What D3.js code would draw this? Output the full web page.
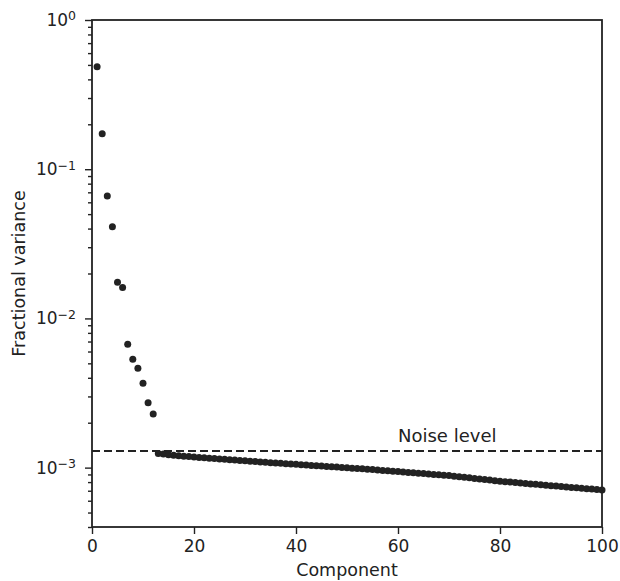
<!DOCTYPE html>
<html>
<head>
<meta charset="utf-8">
<script src="https://cdn.jsdelivr.net/npm/d3@7"></script>
<style>
  body { margin: 0; background: #fff; }
  text { font-family: "DejaVu Sans", sans-serif; fill: #222; }
</style>
</head>
<body>
<div id="plotDiv"></div>
<script>
// --- Data ---
const components = d3.range(1, 101);
const fracVariance = [
  0.486, 0.173, 0.0662, 0.0412, 0.0175, 0.0161, 0.0067, 0.00533, 0.00464, 0.00368,
  0.00272, 0.00229,
  0.001245, 0.001232, 0.001222, 0.001212, 0.001203, 0.001194, 0.001185, 0.001176,
  0.001170, 0.001163, 0.001157, 0.001150, 0.001143, 0.001137, 0.001130, 0.001124,
  0.001117, 0.001111, 0.001105, 0.001098, 0.001092, 0.001086, 0.001080, 0.001074,
  0.001068, 0.001063, 0.001057, 0.001052, 0.001046, 0.001041, 0.001035, 0.001030,
  0.001024, 0.001019, 0.001013, 0.001008, 0.001002, 0.000997, 0.000992, 0.000986,
  0.000981, 0.000976, 0.000970, 0.000964, 0.000958, 0.000952, 0.000946, 0.000941,
  0.000935, 0.000929, 0.000923, 0.000918, 0.000912, 0.000906, 0.000901, 0.000895,
  0.000890, 0.000884, 0.000876, 0.000869, 0.000861, 0.000854, 0.000847, 0.000839,
  0.000832, 0.000825, 0.000818, 0.000811, 0.000805, 0.000800, 0.000794, 0.000789,
  0.000783, 0.000778, 0.000773, 0.000767, 0.000762, 0.000757, 0.000752, 0.000747,
  0.000742, 0.000737, 0.000732, 0.000727, 0.000722, 0.000718, 0.000713, 0.000708
];
const noiseLevel = 0.00129;
const xTicks = [0, 20, 40, 60, 80, 100];
const yMajor = [1, 0.1, 0.01, 0.001];
const yExps = ["0", "\u22121", "\u22122", "\u22123"];

// --- Definitions ---
const margin = {top: 20, right: 18, bottom: 54, left: 92};
const width = 620 - margin.left - margin.right;
const height = 581 - margin.top - margin.bottom;
const ink = "#222";

const svg = d3.select("#plotDiv")
  .append("svg")
  .attr("width", 620)
  .attr("height", 581)
  .append("g")
  .attr("transform", `translate(${margin.left}, ${margin.top})`);

const x = d3.scaleLinear().domain([0, 100]).range([0, width]);
const y = d3.scaleLog().domain([4e-4, 1]).range([height, 0]);

// minor ticks: 2..9 times each decade inside the domain
const yMinor = [];
[1e-4, 1e-3, 1e-2, 1e-1].forEach(d => {
  for (let k = 2; k <= 9; k++) {
    const v = d * k;
    if (v >= 4e-4 && v < 1) yMinor.push(v);
  }
});

// --- Axes ---
const xAxis = svg.append("g")
  .attr("transform", `translate(0, ${height})`)
  .call(d3.axisBottom(x).tickValues(xTicks).tickSize(7).tickPadding(6).tickFormat(d3.format("d")));

const yAxisMinor = svg.append("g")
  .call(d3.axisLeft(y).tickValues(yMinor).tickSize(4).tickFormat(""));

const yAxis = svg.append("g")
  .call(d3.axisLeft(y).tickValues(yMajor).tickSize(7).tickFormat(""));

[xAxis, yAxis, yAxisMinor].forEach(g => {
  g.select(".domain").remove();
  g.selectAll(".tick line").attr("stroke", ink).attr("stroke-width", 1.4);
});
xAxis.selectAll(".tick text")
  .attr("font-size", "17px").attr("font-family", "DejaVu Sans").attr("fill", ink);

// y tick labels: 10 with superscript exponent
yMajor.forEach((v, i) => {
  const t = svg.append("text")
    .attr("x", -16)
    .attr("y", y(v))
    .attr("dy", "0.35em")
    .attr("text-anchor", "end")
    .attr("font-size", "17px");
  t.append("tspan").text("10");
  t.append("tspan").attr("dy", "-0.45em").attr("font-size", "12.5px").text(yExps[i]);
});

// --- Frame ---
svg.append("rect")
  .attr("x", 0).attr("y", 0)
  .attr("width", width).attr("height", height)
  .attr("fill", "none")
  .attr("stroke", ink)
  .attr("stroke-width", 1.8);

// --- Noise level ---
svg.append("line")
  .attr("x1", 0).attr("x2", width)
  .attr("y1", y(noiseLevel)).attr("y2", y(noiseLevel))
  .attr("stroke", ink)
  .attr("stroke-width", 2)
  .attr("stroke-dasharray", "8,4");

svg.append("text")
  .attr("x", x(60))
  .attr("y", y(noiseLevel) - 9)
  .attr("font-size", "18px")
  .text("Noise level");

// --- Points ---
svg.append("g")
  .selectAll("circle")
  .data(components)
  .join("circle")
  .attr("cx", d => x(d))
  .attr("cy", (d, i) => y(fracVariance[i]))
  .attr("r", 3.5)
  .attr("fill", ink);

// --- Labels ---
svg.append("text")
  .attr("x", width / 2)
  .attr("y", height + 49)
  .attr("text-anchor", "middle")
  .attr("font-size", "17.5px")
  .text("Component");

svg.append("text")
  .attr("transform", `translate(${-67}, ${height / 2}) rotate(-90)`)
  .attr("text-anchor", "middle")
  .attr("font-size", "17.5px")
  .text("Fractional variance");
</script>
</body>
</html>
